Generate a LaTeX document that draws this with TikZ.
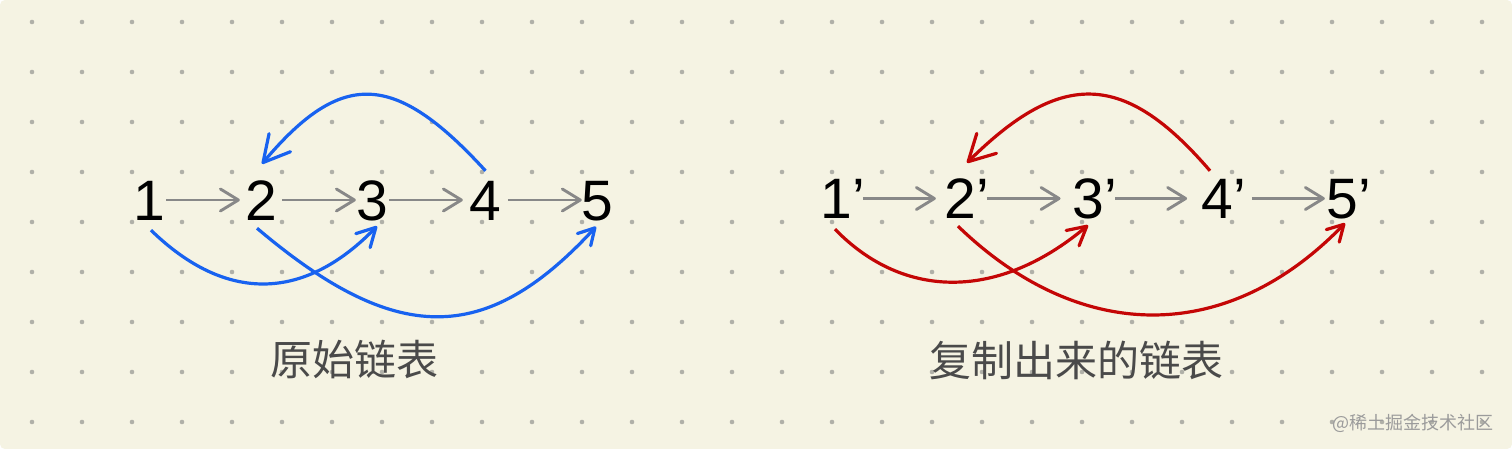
\documentclass[tikz,border=0pt]{standalone}
\usepackage{fontspec}
\setmainfont{Liberation Sans}
\newfontfamily\cjk{Noto Sans CJK SC}
\usetikzlibrary{arrows.meta}
\definecolor{bgcream}{RGB}{245,243,227}
\definecolor{dotgray}{RGB}{176,176,168}
\definecolor{arrgray}{RGB}{136,136,136}
\definecolor{arcblue}{RGB}{24,98,240}
\definecolor{arcred}{RGB}{196,6,6}
\definecolor{lblgray}{RGB}{74,74,74}
\definecolor{wmgray}{RGB}{155,155,155}
\tikzset{
  digit/.style={font=\fontsize{57}{57}\selectfont, inner sep=0pt, text height=40.8pt, text depth=0pt, text=black},
  grayarr/.style={draw=arrgray, line width=2.9pt, -{Straight Barb[length=18pt,width=22pt,round]}},
  toparc/.style={line width=3.2pt, -{Straight Barb[length=26pt,width=28pt,round]}},
  midarc/.style={line width=3.2pt, -{Straight Barb[length=18.5pt,width=20pt,round]}},
  lowarc/.style={line width=3.2pt, -{Straight Barb[length=16pt,width=18pt,round]}},
  cjklabel/.style={font=\cjk\fontsize{42}{42}\selectfont, text=lblgray, inner sep=0pt},
  watermark/.style={font=\cjk\fontsize{18}{18}\selectfont, text=wmgray, inner sep=0pt}
}
\begin{document}
\begin{tikzpicture}[x=1pt,y=-1pt]
\fill[white] (0,0) rectangle (1512,449);
\fill[bgcream, rounded corners=5pt] (0,0) rectangle (1512,449);
\useasboundingbox (0,0) rectangle (1512,449);
\foreach \i in {0,...,29} {
  \foreach \j in {0,...,8} {
    \fill[dotgray] (32+50*\i, 22+50*\j) circle[radius=2.3];
  }
}
% left list
\node[digit] (n1) at (149,200) {1};
\node[digit] (n2) at (261.5,200) {2};
\node[digit] (n3) at (372.5,200) {3};
\node[digit] (n4) at (485,200) {4};
\node[digit] (n5) at (597.5,200) {5};
\draw[grayarr] ([xshift=1.2pt]n1.east) -- ([xshift=-5.6pt]n2.west);
\draw[grayarr] ([xshift=4.6pt]n2.east) -- ([xshift=-0.6pt]n3.west);
\draw[grayarr] ([xshift=0.7pt]n3.east) -- ([xshift=-6.1pt]n4.west);
\draw[grayarr] ([xshift=6.7pt]n4.east) -- ([xshift=0.3pt]n5.west);
\draw[toparc, arcblue] ([shift={(0.5,-8.6)}]n4.north) .. controls +(-90.5,-99) and +(80,-95) .. ([shift={(0.5,-15.6)}]n2.north);
\draw[midarc, arcblue] ([shift={(2,9.6)}]n1.south) .. controls +(75,73) and +(-73,75) .. ([shift={(4.5,5.6)}]n3.south);
\draw[lowarc, arcblue] ([shift={(-4.5,7.6)}]n2.south) .. controls +(138,117) and +(-111,120.5) .. ([shift={(-1.5,6.1)}]n5.south);
\node[cjklabel] (lbl1) at (354,359) {原始链表};
% right list
\node[digit] (m1) at (842.5,198.5) {1’};
\node[digit] (m2) at (967,198.5) {2’};
\node[digit] (m3) at (1094.5,198.5) {3’};
\node[digit] (m4) at (1223.5,198.5) {4’};
\node[digit] (m5) at (1349,198.5) {5’};
\draw[grayarr] ([xshift=-2pt]m1.east) -- ([xshift=-8.8pt]m2.west);
\draw[grayarr] ([xshift=-2.5pt]m2.east) -- ([xshift=-11.6pt]m3.west);
\draw[grayarr] ([xshift=-1.7pt]m3.east) -- ([xshift=-14pt]m4.west);
\draw[grayarr] ([xshift=6pt]m4.east) -- ([xshift=-1.8pt]m5.west);
\draw[toparc, arcred] ([shift={(-13.5,-7.1)}]m4.north) .. controls +(-85,-99) and +(95,-94) .. ([shift={(0,-15.1)}]m2.north);
\draw[midarc, arcred] ([shift={(-7.5,10.1)}]m1.south) .. controls +(70,72) and +(-88,74) .. ([shift={(-6.5,6.1)}]m3.south);
\draw[lowarc, arcred] ([shift={(-9,7.1)}]m2.south) .. controls +(122,118) and +(-118,122) .. ([shift={(-4,4.1)}]m5.south);
\node[cjklabel] (lbl2) at (1076.5,360) {复制出来的链表};
\node[watermark] (wm) at (1413,423.5) {@稀土掘金技术社区};
\end{tikzpicture}
\end{document}
